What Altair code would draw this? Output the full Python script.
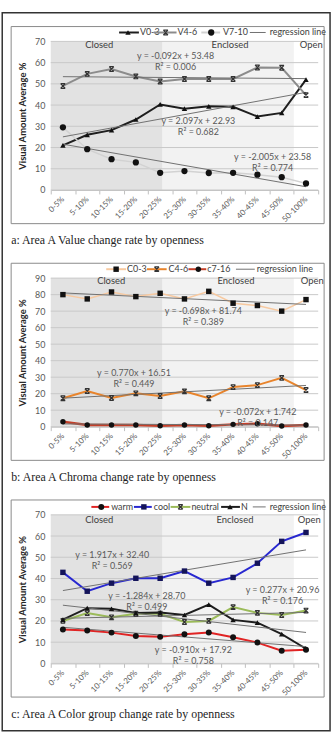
import json
import altair as alt
import pandas as pd

# ---- shared categories (openness bands) ----
categories = ["0-5%", "5-10%", "10-15%", "15-20%", "20-25%", "25-30%",
              "30-35%", "35-40%", "40-45%", "45-50%", "50-100%"]

# openness zones, in category-band units
zone_names = ["Closed", "Enclosed", "Open"]
zone_start = [0.0, 4.6, 10.0]
zone_end = [4.6, 10.0, 11.0]

# ---- a: value groups ----
value_v03 = [21.0, 26.0, 28.2, 33.2, 40.3, 38.3, 39.4, 39.2, 34.6, 36.3, 52.0]
value_v46 = [49.0, 54.7, 57.0, 53.5, 51.1, 52.3, 52.3, 52.3, 57.7, 57.6, 44.7]
value_v710 = [29.5, 19.2, 14.5, 13.0, 8.1, 8.9, 8.0, 8.1, 7.2, 6.0, 3.1]
# (slope, intercept, r2) of each trend line
fit_v03 = (2.097, 22.93, 0.682)
fit_v46 = (-0.092, 53.48, 0.006)
fit_v710 = (-2.005, 23.58, 0.774)

# ---- b: chroma groups ----
chroma_c03 = [80.0, 77.4, 81.6, 78.8, 80.8, 77.4, 82.0, 74.8, 73.4, 70.0, 77.0]
chroma_c46 = [17.2, 21.6, 17.4, 20.2, 18.6, 21.4, 17.2, 24.0, 25.2, 29.6, 22.2]
chroma_c716 = [3.0, 1.0, 1.0, 1.0, 0.6, 1.0, 0.6, 1.4, 1.8, 0.4, 1.0]
fit_c03 = (-0.698, 81.74, 0.389)
fit_c46 = (0.770, 16.51, 0.449)
fit_c716 = (-0.072, 1.742, 0.147)

# ---- c: colour groups ----
group_warm = [16.0, 15.5, 14.5, 12.9, 12.5, 13.7, 14.6, 12.3, 9.8, 6.0, 6.4]
group_cool = [42.9, 34.0, 37.8, 40.1, 40.1, 43.5, 37.8, 40.5, 47.2, 57.5, 61.7]
group_neutral = [20.0, 23.7, 21.7, 23.4, 23.4, 19.5, 20.0, 26.5, 23.8, 22.8, 24.9]
group_n = [20.6, 26.0, 25.7, 23.8, 24.0, 22.8, 27.7, 20.5, 19.2, 13.8, 6.9]
fit_warm = (-0.910, 17.92, 0.758)
fit_cool = (1.917, 32.40, 0.569)
fit_neutral = (0.277, 20.96, 0.176)
fit_n = (-1.284, 28.70, 0.499)

# ---- layout / style ----
W, H = 270, 150
GAP = 89
NCAT = len(categories)
BAND = W / NCAT
FONT = "Lato"
GREY_TEXT = "#595959"
FIT_COLOR = "#707070"
GRID = "#c8c8c8"
HOURGLASS = "M-1,-1L1,1M-1,1L1,-1M-1,-1L1,-1M-1,1L1,1"

one = pd.DataFrame({"k": [0]})

x_scale = alt.Scale(domain=[0, NCAT], nice=False, zero=False)
x_axis = alt.Axis(
    title=None, values=list(range(NCAT + 1)),
    labelExpr=f"datum.value < {NCAT} ? {json.dumps(categories)}[datum.value] : ''",
    labelAngle=315, labelAlign="right", labelBaseline="middle",
    labelOffset=BAND / 2, labelOverlap=False, labelFlush=False, labelBound=False,
    labelFont=FONT, labelFontSize=8, labelColor=GREY_TEXT, labelPadding=4,
    domainColor="#bfbfbf", tickColor="#bfbfbf", tickSize=4, grid=False,
)


def fit_label(slope, intercept):
    digits = 3 if abs(intercept) < 10 else 2
    sign = "+" if intercept >= 0 else "-"
    return f"y = {slope:.3f}x {sign} {abs(intercept):.{digits}f}"


def panel(ymax, series, fits, fit_pos, legend_pos, zone_pos, caption, border=False):
    y_scale = alt.Scale(domain=[0, ymax], nice=False, zero=True)
    y_axis = alt.Axis(
        title="Visual Amount Average %", values=list(range(0, ymax + 1, 10)),
        grid=False, domain=False, ticks=False,
        labelFont=FONT, labelFontSize=9, labelColor=GREY_TEXT, labelPadding=6,
        titleFont=FONT, titleFontSize=9.5, titleFontWeight="bold",
        titleColor="#262626", titlePadding=7,
    )

    def X(field):
        return alt.X(f"{field}:Q", scale=x_scale, axis=x_axis)

    def Y(field):
        return alt.Y(f"{field}:Q", scale=y_scale, axis=y_axis)

    layers = []
    # panel frame
    layers.append(alt.Chart(one).mark_rect(fill=None, stroke="#8a8a8a", strokeWidth=1).encode(
        x=alt.value(-40), x2=alt.value(276), y=alt.value(-15), y2=alt.value(184)))

    # openness zones
    zones = pd.DataFrame({"zone": zone_names, "start": zone_start, "end": zone_end})
    layers.append(alt.Chart(zones).mark_rect().encode(
        x=X("start"), x2="end", y=alt.value(0), y2=alt.value(H),
        color=alt.Color("zone:N", scale=alt.Scale(domain=zone_names,
                        range=["#e2e2e2", "#f2f2f2", "#ffffff"]), legend=None)))

    # horizontal gridlines
    grid = pd.DataFrame({"value": list(range(0, ymax + 1, 10))})
    layers.append(alt.Chart(grid).mark_rule(color=GRID, strokeWidth=1).encode(
        y=Y("value"), x=alt.value(0), x2=alt.value(W)))

    # data series
    for s in series:
        df = pd.DataFrame({"pos": [i + 0.5 for i in range(NCAT)], "value": s["values"]})
        layers.append(alt.Chart(df).mark_line(color=s["color"], strokeWidth=s["width"]).encode(
            x=X("pos"), y=Y("value")))

    # trend lines, drawn from the stated equations
    for slope, intercept, _ in fits:
        df = pd.DataFrame({"pos": [0.5, NCAT - 0.5],
                           "value": [slope * 1 + intercept, slope * NCAT + intercept]})
        layers.append(alt.Chart(df).mark_line(color=FIT_COLOR, strokeWidth=1).encode(
            x=X("pos"), y=Y("value")))

    for s in series:
        df = pd.DataFrame({"pos": [i + 0.5 for i in range(NCAT)], "value": s["values"]})
        layers.append(alt.Chart(df).mark_point(
            shape=s["shape"], filled=s["filled"], size=s["size"], color=s["mcolor"],
            strokeWidth=1.2, opacity=1).encode(x=X("pos"), y=Y("value")))

    # equation labels
    for (slope, intercept, r2), (px, py) in zip(fits, fit_pos):
        layers.append(alt.Chart(one).mark_text(
            text=fit_label(slope, intercept), font=FONT, fontSize=9, color=GREY_TEXT
        ).encode(x=alt.value(px), y=alt.value(py)))
        layers.append(alt.Chart(one).mark_text(
            text=f"R² = {r2:.3f}", font=FONT, fontSize=9, color=GREY_TEXT
        ).encode(x=alt.value(px), y=alt.value(py + 11)))

    # zone names
    for name, (px, py) in zip(zone_names, zone_pos):
        layers.append(alt.Chart(one).mark_text(
            text=name, font=FONT, fontSize=9.5, color="#404040"
        ).encode(x=alt.value(px), y=alt.value(py)))

    # legend row
    ly, (items, reg) = legend_pos
    for s, (x0, x1, mx, tx) in zip(series, items):
        layers.append(alt.Chart(one).mark_rule(color=s["color"], strokeWidth=2).encode(
            x=alt.value(x0), x2=alt.value(x1), y=alt.value(ly)))
        layers.append(alt.Chart(one).mark_point(
            shape=s["shape"], filled=s["filled"], size=s["size"], color=s["mcolor"],
            strokeWidth=1.2, opacity=1).encode(x=alt.value(mx), y=alt.value(ly)))
        layers.append(alt.Chart(one).mark_text(
            text=s["name"], font=FONT, fontSize=9, color="#404040", align="left"
        ).encode(x=alt.value(tx), y=alt.value(ly)))
    rx0, rx1, rtx = reg
    layers.append(alt.Chart(one).mark_rule(color=FIT_COLOR, strokeWidth=1).encode(
        x=alt.value(rx0), x2=alt.value(rx1), y=alt.value(ly)))
    layers.append(alt.Chart(one).mark_text(
        text="regression line", font=FONT, fontSize=9, color="#404040", align="left"
    ).encode(x=alt.value(rtx), y=alt.value(ly)))

    # caption
    layers.append(alt.Chart(one).mark_text(
        text=caption, font="Liberation Serif", fontSize=12, color="#222222", align="left"
    ).encode(x=alt.value(-40), y=alt.value(201)))

    if border:
        layers.append(alt.Chart(one).mark_rect(fill=None, stroke="#333333", strokeWidth=1.5).encode(
            x=alt.value(-49), x2=alt.value(282), y=alt.value(-29), y2=alt.value(3 * H + 2 * GAP + 68)))

    return alt.layer(*layers).properties(width=W, height=H)


def sdef(name, values, color, width, shape, mcolor, size, filled=True):
    return dict(name=name, values=values, color=color, width=width, shape=shape,
                mcolor=mcolor, size=size, filled=filled)


panel_a = panel(
    70,
    [sdef("V0-3", value_v03, "#1e1e1e", 2, "triangle-up", "#111111", 30),
     sdef("V4-6", value_v46, "#8c8c8c", 2, HOURGLASS, "#333333", 22, filled=False),
     sdef("V7-10", value_v710, "#d2d2d2", 1.5, "circle", "#111111", 40)],
    [fit_v03, fit_v46, fit_v710],
    [(149, 80), (126, 15), (224, 117)],
    (-9, ([(69, 89, 78, 90), (104, 127, 116, 128), (152, 171, 162, 174)], (201, 217, 221))),
    [(49, 4), (181, 4), (263, 4)],
    "a: Area A Value change rate by openness",
    border=True,
)

panel_b = panel(
    90,
    [sdef("C0-3", chroma_c03, "#f7c9a0", 1.5, "square", "#111111", 30),
     sdef("C4-6", chroma_c46, "#e8842c", 2, HOURGLASS, "#333333", 22, filled=False),
     sdef("c7-16", chroma_c716, "#c4402a", 2.5, "circle", "#111111", 30)],
    [fit_c03, fit_c46, fit_c716],
    [(154, 33), (84, 96), (209, 135)],
    (-9, ([(56, 76, 66, 77), (97, 117, 107, 119), (139, 157, 149, 158)], (187, 206, 208))),
    [(61, 3), (187, 3), (264, 3)],
    "b: Area A Chroma change rate by openness",
)

panel_c = panel(
    70,
    [sdef("warm", group_warm, "#e02424", 2, "circle", "#111111", 36),
     sdef("cool", group_cool, "#2828d0", 2, "square", "#14145a", 30),
     sdef("neutral", group_neutral, "#9bbb59", 2, HOURGLASS, "#333333", 22, filled=False),
     sdef("N", group_n, "#1e1e1e", 2, "triangle-up", "#111111", 30)],
    [fit_warm, fit_cool, fit_neutral, fit_n],
    [(144, 137), (62, 41), (234, 76), (97, 82)],
    (-8, ([(41, 59, 51, 61), (84, 102, 94, 104), (121, 141, 131, 142), (172, 191, 181, 192)],
          (204, 217, 221))),
    [(49, 5), (186, 5), (261, 5)],
    "c: Area A Color group change rate by openness",
)

chart = alt.vconcat(panel_a, panel_b, panel_c, spacing=GAP, bounds="flush").properties(
    padding={"left": 1.25, "top": 8.25, "right": 2, "bottom": 1},
    background="white",
).configure_view(stroke=None)

chart.save("out.html", embed_options={"renderer": "svg", "actions": False})
